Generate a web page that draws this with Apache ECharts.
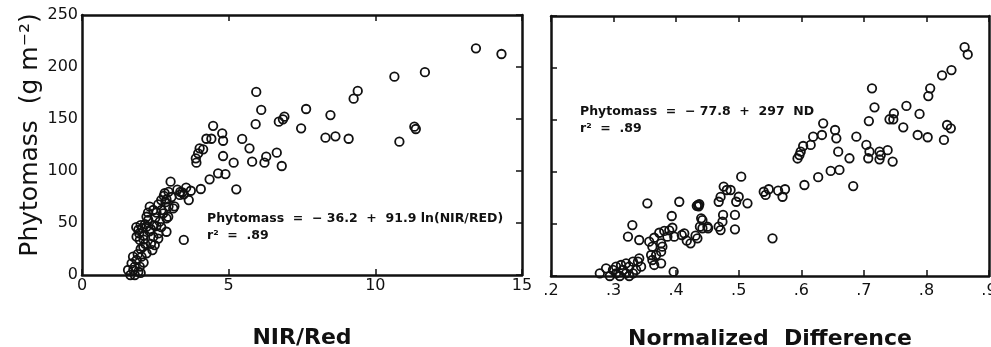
<!DOCTYPE html>
<html>
<head>
<meta charset="utf-8">
<script src="https://cdn.jsdelivr.net/npm/echarts@6/dist/echarts.min.js"></script>
<style>
html,body{margin:0;padding:0;background:#fff;}
#chart{width:991px;height:347px;}
</style>
</head>
<body>
<div id="chart"></div>
<script>
// ---- tick labels ----
const nirTickLabels = ['0', '5', '10', '15'];
const ndTickLabels = ['.2', '.3', '.4', '.5', '.6', '.7', '.8', '.9'];
const phytoTickLabels = ['0', '50', '100', '150', '200', '250'];

// ---- texts ----
const yTitle = 'Phytomass  (g m\u207B\u00B2)';
const xTitleLeft = 'NIR/Red';
const xTitleRight = 'Normalized  Difference';
const eqLeft = 'Phytomass  =  \u2212 36.2  +  91.9 ln(NIR/RED)';
const eqRight = 'Phytomass  =  \u2212 77.8  +  297  ND';
const r2Text = 'r\u00B2  =  .89';

// ---- data: left panel, [NIR/Red, Phytomass g m-2] ----
const nirRed = [
  13.43,14.3,10.65,11.69,9.26,9.40,5.94,6.11,5.92,6.71,6.85,6.9,7.64,7.47,8.47,8.30,8.64,9.09,10.82,11.33,11.38,
  4.47,4.78,4.81,4.41,4.24,4.01,4.13,3.96,3.88,3.90,5.46,5.71,5.80,6.28,6.22,6.64,6.81,4.81,5.17,4.89,4.64,4.35,4.05,5.26,
  3.71,3.64,3.47,3.02,2.82,2.79,2.88,3.11,3.42,3.33,3.47,3.55,3.25,3.05,2.95,2.31,2.43,2.54,2.71,2.77,2.88,2.94,2.65,2.54,
  2.26,2.20,2.88,2.43,2.48,1.92,1.86,1.97,2.09,2.20,2.03,1.86,1.74,1.69,1.57,1.80,1.92,1.97,1.80,1.95,2.05,2.10,2.35,2.45,
  2.30,2.25,2.20,2.15,2.60,2.70,2.85,2.50,2.60,2.35,2.15,2.00,2.10,1.90,1.75,2.00,2.60,2.70,2.40,2.00,1.65,3.15,3.35,2.95,
  1.85,2.10
];
const phytoLeft = [
  218,212.5,190.7,195,169.5,177,176,158.7,145,147.4,149.7,152.2,159.6,141,153.8,132,133.3,131,128.2,142.6,140.4,
  143.4,136.2,129.1,131,131,121.8,120.8,117,112.2,108,130.8,121.8,109,113.8,108,117.6,104.8,114.4,108,97,97.8,92,82.7,82.4,
  81,72,33.7,89.7,78.6,76,72.8,64,79.5,77,77.6,84,82,75,80,65.7,62.5,60,62.5,59.3,54.5,56,51.3,47,
  52.9,46.4,41.6,36.8,28.8,43.3,36.8,33.7,27.2,20.9,17.6,14.4,17.6,11.2,4.8,0,3.2,8,8,40,45,38,44,48,
  42,60,56,49,68,72,70,55,40,30,30,25,12,20,5,48,35,46,24,2,0,66,80,66,
  46,34
];

// ---- data: right panel, [Normalized Difference, Phytomass g m-2] ----
const ndValues = [
  0.861,0.866,0.840,0.825,0.806,0.803,0.713,0.717,0.768,0.789,0.748,0.741,0.747,0.708,0.763,0.786,0.802,0.833,0.839,0.828,
  0.635,0.654,0.656,0.633,0.619,0.688,0.704,0.707,0.725,0.727,0.738,0.746,0.677,0.659,0.615,0.603,0.599,0.594,0.597,0.709,0.725,
  0.647,0.661,0.627,0.605,0.683,0.554,0.504,
  0.476,0.481,0.487,0.500,0.496,0.514,0.471,0.468,0.475,0.474,0.468,0.471,0.494,0.494,0.451,
  0.540,0.543,0.548,0.563,0.570,0.574,
  0.435,0.437,0.433,0.436,0.440,0.438,0.431,0.423,0.417,0.409,0.405,0.393,0.354,0.330,0.323,0.341,
  0.357,0.365,0.373,0.381,0.389,0.394,0.386,0.397,0.362,0.376,0.413,0.442,0.450,0.442,0.434,
  0.360,0.368,0.362,0.376,0.365,0.376,0.378,
  0.278,0.288,0.299,0.304,0.312,0.320,0.325,0.331,0.339,0.341,0.315,0.304,0.320,0.331,0.336,0.294,0.310,0.325,0.344,0.396
];
const phytoRight = [
  220,213,198,193,180.5,173,180.5,162.2,163.5,155.8,156.4,150.7,150.7,149,143,135.6,133.4,145.2,142,130.8,
  146.8,140.4,132.4,135.6,134,134,126,113.2,112.2,116.3,121,110,113.2,119.5,126,125,119.5,113,116.3,119.5,119.5,
  101,102,95,87.5,86.5,36.2,95.5,
  86,82.7,82.7,76.2,71.4,69.9,76,71.4,58.7,52.2,47.4,44.2,58.7,44.9,45.9,
  81,78,83.4,82,76.2,83.4,
  68.3,69,67.5,67,55.5,47.4,38.8,31.4,34,39.4,71.4,57.7,69.9,49,37.8,34.6,
  33,36.8,41.6,43.3,43.9,46.4,37.8,37.8,28.2,31.4,41,53.8,47.4,45.9,36.2,
  20.2,20.2,15.4,12.2,10.6,23.4,28.2,
  2.6,7.4,5.8,9,10.6,12.2,9,13.8,13.8,17,5.8,2.6,2.6,2.6,5.8,0,0,0,9,4.2
];

const leftData = nirRed.map((x, i) => [x, phytoLeft[i]]);
const rightData = ndValues.map((x, i) => [x, phytoRight[i]]);

const chart = echarts.init(document.getElementById('chart'));
const black = '#111';
const lineStyle = { color: black, width: 2.5 };
const tickIn = { show: true, inside: true, length: 6, lineStyle: { color: black, width: 1.5 } };
const labelFont = { fontFamily: 'DejaVu Sans', fontSize: 16, color: black };
const titleFont = { fontFamily: 'DejaVu Sans', fontWeight: 'bold', fontSize: 22, color: black };
const eqFont = { fontFamily: 'DejaVu Sans', fontWeight: 'bold', fontSize: 12.5, fill: black };

const grids = [
  { left: 82, top: 15, width: 440, height: 260, containLabel: false, outerBoundsMode: 'none' },
  { left: 551, top: 16, width: 438, height: 260, containLabel: false, outerBoundsMode: 'none' }
];

function xAx(gi, pos, min, max, interval, labels, name, showLabel, margin) {
  return {
    type: 'value', gridIndex: gi, position: pos, min: min, max: max, interval: interval,
    axisLine: { show: true, onZero: false, lineStyle: lineStyle },
    axisTick: tickIn,
    splitLine: { show: false },
    axisLabel: showLabel ? Object.assign({ margin: margin, formatter: v => labels[Math.round((v - min) / interval)] }, labelFont) : { show: false },
    name: name || '', nameLocation: 'middle', nameGap: 52, nameTextStyle: titleFont
  };
}
function yAx(gi, pos, showLabel, showTick) {
  return {
    type: 'value', gridIndex: gi, position: pos, min: 0, max: 250, interval: 50,
    axisLine: { show: true, onZero: false, lineStyle: lineStyle },
    axisTick: showTick ? tickIn : { show: false },
    splitLine: { show: false },
    axisLabel: showLabel ? Object.assign({ margin: 4, formatter: v => phytoTickLabels[Math.round(v / 50)] }, labelFont) : { show: false }
  };
}

const scatterStyle = { color: 'rgba(0,0,0,0)', borderColor: black, borderWidth: 1.8, opacity: 1 };

chart.setOption({
  animation: false,
  backgroundColor: '#fff',
  grid: grids,
  xAxis: [
    xAx(0, 'bottom', 0, 15, 5, nirTickLabels, xTitleLeft, true, 3),
    xAx(0, 'top', 0, 15, 5, nirTickLabels, '', false, 0),
    xAx(1, 'bottom', 0.2, 0.9, 0.1, ndTickLabels, xTitleRight, true, 7),
    xAx(1, 'top', 0.2, 0.9, 0.1, ndTickLabels, '', false, 0)
  ],
  yAxis: [
    yAx(0, 'left', true, false),
    yAx(0, 'right', false, true),
    yAx(1, 'left', false, true),
    yAx(1, 'right', false, false)
  ],
  series: [
    { type: 'scatter', xAxisIndex: 0, yAxisIndex: 0, data: leftData, symbol: 'circle', symbolSize: 8.5, itemStyle: scatterStyle, emphasis: { disabled: true } },
    { type: 'scatter', xAxisIndex: 2, yAxisIndex: 2, data: rightData, symbol: 'circle', symbolSize: 8.5, itemStyle: scatterStyle, emphasis: { disabled: true } }
  ],
  graphic: [
    { type: 'text', x: 30, y: 135, rotation: Math.PI / 2, style: { text: yTitle, font: '25px "DejaVu Sans"', fill: black, textAlign: 'center', textVerticalAlign: 'middle' } },
    { type: 'text', x: 207, y: 212, style: Object.assign({ text: eqLeft }, eqFont) },
    { type: 'text', x: 207, y: 229, style: Object.assign({ text: r2Text }, eqFont) },
    { type: 'text', x: 580, y: 105, style: Object.assign({ text: eqRight }, eqFont) },
    { type: 'text', x: 580, y: 122, style: Object.assign({ text: r2Text }, eqFont) }
  ]
});
</script>
</body>
</html>
